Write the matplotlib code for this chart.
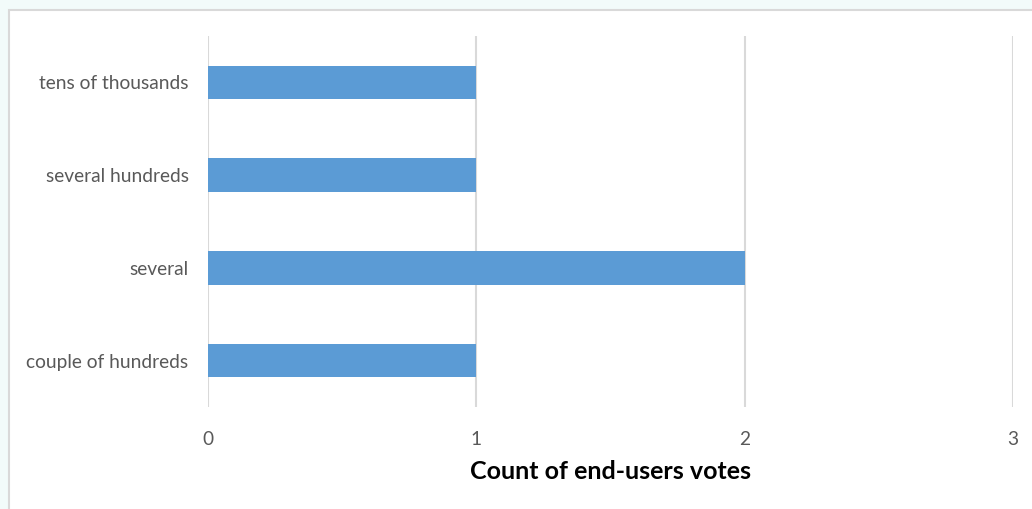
import matplotlib
matplotlib.use("Agg")
import matplotlib.pyplot as plt
from matplotlib.patches import Rectangle

plt.rcParams["font.family"] = ["Lato", "DejaVu Sans"]

categories = ["couple of hundreds", "several", "several hundreds", "tens of thousands"]
votes = [1, 2, 1, 1]
x_ticks = [0, 1, 2, 3]

W, H = 1032, 509
fig = plt.figure(figsize=(W / 100, H / 100), dpi=100, facecolor="#F2FBFA")

# white chart area with light grey frame (runs off the right/bottom edges)
fig.add_artist(Rectangle((9 / W, -0.05), 1.1, 1 - 10 / H + 0.05,
                         transform=fig.transFigure, facecolor="white",
                         edgecolor="#D9D9D9", linewidth=1.5, zorder=-5))

ax = fig.add_axes([208 / W, 1 - 407 / H, (1013 - 208) / W, (407 - 36) / H])
ax.set_facecolor("none")

ax.barh(range(len(categories)), votes, height=0.36, color="#5B9BD5", zorder=3)

ax.set_xlim(0, 3)
ax.set_ylim(-0.5, len(categories) - 0.5)
ax.set_xticks(x_ticks)
ax.set_yticks(range(len(categories)))
ax.set_yticklabels(categories)
ax.grid(axis="x", color="#D9D9D9", linewidth=1.5, zorder=0)
ax.tick_params(axis="both", length=0, labelsize=13.8, colors="#595959")
ax.tick_params(axis="x", pad=17)
ax.tick_params(axis="y", pad=14)
for s in ax.spines.values():
    s.set_visible(False)

ax.set_xlabel("Count of end-users votes", fontsize=18, fontweight="bold",
              color="black", labelpad=9)

fig.savefig("out.png", dpi=100, facecolor=fig.get_facecolor())
